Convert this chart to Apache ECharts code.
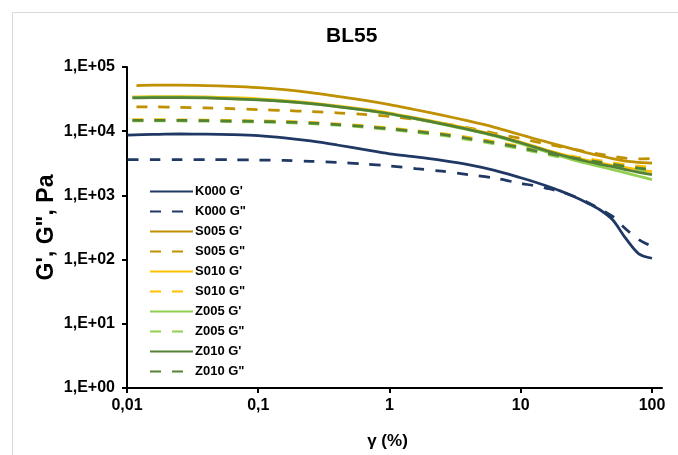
<!DOCTYPE html>
<html>
<head>
<meta charset="utf-8">
<script src="https://cdn.jsdelivr.net/npm/echarts@6/dist/echarts.min.js"></script>
<style>
html,body{margin:0;padding:0;background:#fff;}
#chart{width:678px;height:455px;}
</style>
</head>
<body>
<div id="chart"></div>
<script>
// ---- data: strain γ (%) and moduli (Pa) ----
const gammaCommon = [0.01, 0.0158, 0.0251, 0.0398, 0.0631, 0.1, 0.158, 0.251, 0.398, 0.631, 1, 1.58, 2.51, 3.98, 6.31, 10, 12.6, 15.8, 20, 25.1, 31.6, 39.8, 50.1, 63.1, 79.4, 100];
const gammaK000 = [0.0101].concat(gammaCommon.slice(1));
const gammaS005 = [0.0118].concat(gammaCommon.slice(1));
const gammaS010 = [0.0110].concat(gammaCommon.slice(1));
const gammaZ005 = [0.0110].concat(gammaCommon.slice(1));
const gammaZ010 = [0.0110].concat(gammaCommon.slice(1));

const K000_Gp  = [8700, 8900, 9050, 9000, 8850, 8550, 7900, 7050, 6100, 5200, 4450, 3980, 3510, 3010, 2455, 1885, 1635, 1400, 1175, 966, 776, 603, 417, 214, 123, 105];
const K000_Gpp = [3600, 3620, 3620, 3610, 3590, 3560, 3500, 3400, 3270, 3100, 2880, 2620, 2380, 2110, 1860, 1540, 1420, 1290, 1150, 980, 800, 620, 470, 300, 205, 160];
const S005_Gp  = [51500, 52000, 52000, 51300, 50000, 47800, 44500, 40000, 35000, 30500, 26000, 21600, 17800, 14450, 11500, 8800, 7700, 6800, 5950, 5250, 4650, 4150, 3750, 3420, 3270, 3180];
const S005_Gpp = [24000, 23900, 23600, 23100, 22400, 21700, 21000, 20200, 19300, 18300, 17000, 15300, 13300, 11300, 9300, 7700, 6950, 6300, 5750, 5250, 4800, 4400, 4050, 3800, 3720, 3750];
const S010_Gp  = [34300, 34600, 34600, 34200, 33200, 31900, 30000, 27600, 24900, 22100, 19200, 16100, 13400, 11000, 8800, 6750, 5850, 5100, 4450, 3950, 3550, 3220, 2950, 2700, 2500, 2350];
const S010_Gpp = [15100, 15100, 15050, 14900, 14700, 14500, 14200, 13700, 13000, 12200, 11200, 10200, 9200, 8000, 6850, 5800, 5250, 4800, 4400, 4050, 3750, 3480, 3230, 3000, 2850, 2750];
const Z005_Gp  = [33500, 33800, 33800, 33300, 32300, 31000, 29200, 26900, 24200, 21400, 18600, 15600, 12900, 10550, 8450, 6400, 5500, 4750, 4100, 3580, 3170, 2830, 2520, 2240, 1990, 1760];
const Z005_Gpp = [14500, 14500, 14450, 14300, 14100, 13900, 13600, 13100, 12400, 11600, 10600, 9600, 8600, 7400, 6350, 5300, 4780, 4330, 3950, 3650, 3370, 3130, 2900, 2700, 2530, 2380];
const Z010_Gp  = [33100, 33400, 33400, 33000, 32000, 30800, 29100, 26800, 24200, 21500, 18700, 15670, 13030, 10700, 8610, 6610, 5700, 4950, 4300, 3800, 3400, 3080, 2800, 2520, 2290, 2100];
const Z010_Gpp = [14800, 14800, 14750, 14600, 14400, 14200, 13900, 13400, 12700, 11900, 10900, 9900, 8900, 7700, 6600, 5550, 5000, 4550, 4150, 3850, 3550, 3300, 3050, 2830, 2650, 2500];

const xTickValues = [0.01, 0.1, 1, 10, 100];
const xTickLabels = ['0,01', '0,1', '1', '10', '100'];
const yTickValues = [1, 10, 100, 1000, 10000, 100000];
const yTickLabels = ['1,E+00', '1,E+01', '1,E+02', '1,E+03', '1,E+04', '1,E+05'];

const seriesDefs = [
  ["K000 G'",  gammaK000, K000_Gp,  '#203864', 'solid'],
  ['K000 G"',  gammaK000, K000_Gpp, '#203864', 'dash'],
  ["S005 G'",  gammaS005, S005_Gp,  '#BF9000', 'solid'],
  ['S005 G"',  gammaS005, S005_Gpp, '#BF9000', 'dash'],
  ["S010 G'",  gammaS010, S010_Gp,  '#FFC000', 'solid'],
  ['S010 G"',  gammaS010, S010_Gpp, '#FFC000', 'dash'],
  ["Z005 G'",  gammaZ005, Z005_Gp,  '#92D050', 'solid'],
  ['Z005 G"',  gammaZ005, Z005_Gpp, '#92D050', 'dash'],
  ["Z010 G'",  gammaZ010, Z010_Gp,  '#548235', 'solid'],
  ['Z010 G"',  gammaZ010, Z010_Gpp, '#548235', 'dash']
];

const FONT = '"Liberation Sans", Arial, sans-serif';
const chart = echarts.init(document.getElementById('chart'), null, {renderer: 'canvas'});

const series = seriesDefs.map(([name, xs, ys, color, style]) => ({
  name: name,
  type: 'line',
  data: xs.map((x, i) => [x, ys[i]]),
  symbol: 'none',
  smooth: 0.3,
  lineStyle: {color: color, width: 2.75, type: style === 'dash' ? [11, 11] : 'solid'},
  itemStyle: {color: color},
  emphasis: {disabled: true},
  animation: false
}));

const pick = (vals, labels) => v => {
  const i = vals.findIndex(t => Math.abs(Math.log10(t) - Math.log10(v)) < 1e-6);
  return i >= 0 ? labels[i] : '';
};

chart.setOption({
  animation: false,
  backgroundColor: '#ffffff',
  title: {
    text: 'BL55',
    left: 326, top: 26, padding: 0,
    textStyle: {fontFamily: FONT, fontWeight: 'bold', fontSize: 21, color: '#000'}
  },
  graphic: [{
    type: 'rect', shape: {x: 12.5, y: 12.5, width: 700, height: 500},
    style: {fill: 'none', stroke: '#d9d9d9', lineWidth: 1}, silent: true, z: -1
  }],
  grid: {left: 127, top: 67, right: 16, bottom: 67, containLabel: false},
  legend: {
    orient: 'vertical', left: 149, top: 185, padding: 0,
    itemWidth: 43, itemHeight: 14, itemGap: 7,
    itemStyle: {opacity: 0},
    textStyle: {fontFamily: FONT, fontWeight: 'bold', fontSize: 13, color: '#000', padding: [0, 0, 0, -3]},
    data: seriesDefs.map(d => d[0])
  },
  xAxis: {
    type: 'log', logBase: 10, min: 0.01, max: 119.2,
    name: 'γ (%)', nameLocation: 'middle', nameGap: 45, nameMoveOverlap: false,
    nameTextStyle: {fontFamily: FONT, fontWeight: 'bold', fontSize: 17, color: '#000', padding: [0, 14, 0, 0]},
    axisLine: {lineStyle: {color: '#000', width: 2}},
    axisTick: {show: true, inside: false, length: 5, lineStyle: {color: '#000', width: 2}, customValues: xTickValues},
    axisLabel: {
      customValues: xTickValues, margin: 10,
      fontFamily: FONT, fontWeight: 'bold', fontSize: 16, color: '#000',
      formatter: pick(xTickValues, xTickLabels)
    },
    splitLine: {show: false}, minorTick: {show: false}
  },
  yAxis: {
    type: 'log', logBase: 10, min: 1, max: 100000,
    name: 'G\', G", Pa', nameLocation: 'middle', nameGap: 69, nameRotate: 90, nameMoveOverlap: false,
    nameTextStyle: {fontFamily: FONT, fontWeight: 'bold', fontSize: 23, color: '#000'},
    axisLine: {show: true, lineStyle: {color: '#000', width: 2}},
    axisTick: {show: true, inside: false, length: 5, lineStyle: {color: '#000', width: 2}, customValues: yTickValues},
    axisLabel: {
      customValues: yTickValues, margin: 12,
      fontFamily: FONT, fontWeight: 'bold', fontSize: 16, color: '#000',
      formatter: pick(yTickValues, yTickLabels)
    },
    splitLine: {show: false}, minorTick: {show: false}
  },
  series: series
});
</script>
</body>
</html>
